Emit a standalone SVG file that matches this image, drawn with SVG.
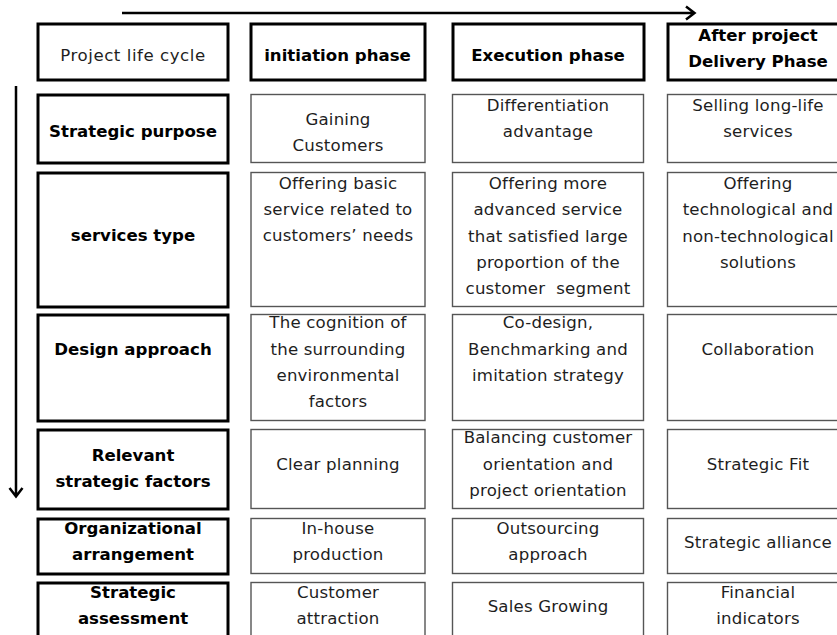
<svg xmlns="http://www.w3.org/2000/svg" width="837" height="635" viewBox="0 0 837 635">
<defs>
<style>
.hd{fill:#fff;stroke:#000;stroke-width:3}
.cl{fill:#fff;stroke:#555;stroke-width:1.4}
text{font-family:"DejaVu Sans",Verdana,sans-serif;font-size:16.6px;text-anchor:middle;fill:#1e1e1e;letter-spacing:0.2px}
.b{font-weight:bold;fill:#000;letter-spacing:0}
.ar{fill:none;stroke:#000;stroke-width:2.5}
</style>
</defs>
<g id="connectors">
<path class="ar" d="M122,13 H694 M686,6.5 L694.5,13 L686,19.5"/>
<path class="ar" d="M16,86 V496 M9.5,488 L16,496.5 L22.5,488"/>
</g>
<g id="h0"><rect class="hd" x="38" y="24" width="190" height="56"/><text x="133" y="61" style="letter-spacing:0.55px">Project life cycle</text></g>
<g id="h1"><rect class="hd" x="251" y="24" width="174" height="56"/><text class="b" x="337.5" y="61">initiation phase</text></g>
<g id="h2"><rect class="hd" x="453" y="24" width="191" height="56"/><text class="b" x="548" y="61">Execution phase</text></g>
<g id="h3"><rect class="hd" x="668" y="24" width="185" height="56"/><text class="b" x="758" y="41">After project</text><text class="b" x="758" y="67">Delivery Phase</text></g>

<g id="r1c0"><rect class="hd" x="38" y="95" width="190" height="68"/><text class="b" x="133" y="137">Strategic purpose</text></g>
<g id="r1c1"><rect class="cl" x="251" y="94.5" width="174" height="68"/><text x="338" y="125">Gaining</text><text x="338" y="151">Customers</text></g>
<g id="r1c2"><rect class="cl" x="452.5" y="94.5" width="191" height="68"/><text x="548" y="111">Differentiation</text><text x="548" y="137">advantage</text></g>
<g id="r1c3"><rect class="cl" x="667.5" y="94.5" width="185" height="68"/><text x="758" y="111">Selling long-life</text><text x="758" y="137">services</text></g>

<g id="r2c0"><rect class="hd" x="38" y="173" width="190" height="134"/><text class="b" x="133" y="241">services type</text></g>
<g id="r2c1"><rect class="cl" x="251" y="172.5" width="174" height="134"/><text x="338" y="189">Offering basic</text><text x="338" y="215">service related to</text><text x="338" y="241">customers’ needs</text></g>
<g id="r2c2"><rect class="cl" x="452.5" y="172.5" width="191" height="134"/><text x="548" y="189">Offering more</text><text x="548" y="215">advanced service</text><text x="548" y="242">that satisfied large</text><text x="548" y="268">proportion of the</text><text x="548" y="294" xml:space="preserve">customer  segment</text></g>
<g id="r2c3"><rect class="cl" x="667.5" y="172.5" width="185" height="134"/><text x="758" y="189">Offering</text><text x="758" y="215">technological and</text><text x="758" y="242">non-technological</text><text x="758" y="268">solutions</text></g>

<g id="r3c0"><rect class="hd" x="38" y="315" width="190" height="106"/><text class="b" x="133" y="355">Design approach</text></g>
<g id="r3c1"><rect class="cl" x="251" y="314.5" width="174" height="106"/><text x="338" y="328">The cognition of</text><text x="338" y="355">the surrounding</text><text x="338" y="381">environmental</text><text x="338" y="407">factors</text></g>
<g id="r3c2"><rect class="cl" x="452.5" y="314.5" width="191" height="106"/><text x="548" y="328">Co-design,</text><text x="548" y="355">Benchmarking and</text><text x="548" y="381">imitation strategy</text></g>
<g id="r3c3"><rect class="cl" x="667.5" y="314.5" width="185" height="106"/><text x="758" y="355">Collaboration</text></g>

<g id="r4c0"><rect class="hd" x="38" y="430" width="190" height="79"/><text class="b" x="133" y="461">Relevant</text><text class="b" x="133" y="487">strategic factors</text></g>
<g id="r4c1"><rect class="cl" x="251" y="429.5" width="174" height="79"/><text x="338" y="470">Clear planning</text></g>
<g id="r4c2"><rect class="cl" x="452.5" y="429.5" width="191" height="79"/><text x="548" y="443">Balancing customer</text><text x="548" y="470">orientation and</text><text x="548" y="496">project orientation</text></g>
<g id="r4c3"><rect class="cl" x="667.5" y="429.5" width="185" height="79"/><text x="758" y="470">Strategic Fit</text></g>

<g id="r5c0"><rect class="hd" x="38" y="519" width="190" height="55"/><text class="b" x="133" y="534">Organizational</text><text class="b" x="133" y="560">arrangement</text></g>
<g id="r5c1"><rect class="cl" x="251" y="518.5" width="174" height="55"/><text x="338" y="534">In-house</text><text x="338" y="560">production</text></g>
<g id="r5c2"><rect class="cl" x="452.5" y="518.5" width="191" height="55"/><text x="548" y="534">Outsourcing</text><text x="548" y="560">approach</text></g>
<g id="r5c3"><rect class="cl" x="667.5" y="518.5" width="185" height="55"/><text x="758" y="548">Strategic alliance</text></g>

<g id="r6c0"><rect class="hd" x="38" y="583" width="190" height="70"/><text class="b" x="133" y="598">Strategic</text><text class="b" x="133" y="624">assessment</text></g>
<g id="r6c1"><rect class="cl" x="251" y="582.5" width="174" height="70"/><text x="338" y="598">Customer</text><text x="338" y="624">attraction</text></g>
<g id="r6c2"><rect class="cl" x="452.5" y="582.5" width="191" height="70"/><text x="548" y="612">Sales Growing</text></g>
<g id="r6c3"><rect class="cl" x="667.5" y="582.5" width="185" height="70"/><text x="758" y="598">Financial</text><text x="758" y="624">indicators</text></g>
</svg>
